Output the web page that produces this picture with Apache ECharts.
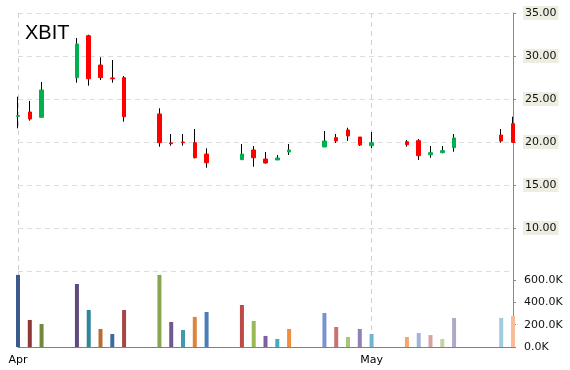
<!DOCTYPE html>
<html>
<head>
<meta charset="utf-8">
<script src="https://cdn.jsdelivr.net/npm/echarts@6/dist/echarts.min.js"></script>
<style>html,body{margin:0;padding:0;background:#fff}#c{width:570px;height:370px}</style>
</head>
<body>
<div id="c"></div>
<script>
// Calendar days on the x axis (Apr 1 .. May 13)
const categories = ['Apr 1','Apr 2','Apr 3','Apr 4','Apr 5','Apr 6','Apr 7','Apr 8','Apr 9','Apr 10',
  'Apr 11','Apr 12','Apr 13','Apr 14','Apr 15','Apr 16','Apr 17','Apr 18','Apr 19','Apr 20',
  'Apr 21','Apr 22','Apr 23','Apr 24','Apr 25','Apr 26','Apr 27','Apr 28','Apr 29','Apr 30',
  'May 1','May 2','May 3','May 4','May 5','May 6','May 7','May 8','May 9','May 10',
  'May 11','May 12','May 13'];
const monthTickDays = ['Apr 1','May 1'];
const monthTickLabels = ['Apr','May'];

// Trading days and values
const dates = ['Apr 1','Apr 2','Apr 3','Apr 6','Apr 7','Apr 8','Apr 9','Apr 10','Apr 13','Apr 14',
  'Apr 15','Apr 16','Apr 17','Apr 20','Apr 21','Apr 22','Apr 23','Apr 24','Apr 27','Apr 28',
  'Apr 29','Apr 30','May 1','May 4','May 5','May 6','May 7','May 8','May 12','May 13'];
const openVals  = [22.98,23.49,22.87,27.48,32.36,28.95,27.45,27.48,23.26,19.90,20.00,19.92,18.60,17.94,19.07,18.02,17.91,18.84,19.42,20.50,21.40,20.58,19.57,20.03,20.15,18.52,18.76,19.34,20.81,22.13];
const closeVals = [23.06,22.67,26.05,31.40,27.36,27.48,27.35,22.94,19.92,19.80,19.92,18.17,17.59,18.60,18.17,17.56,18.14,19.07,20.12,20.12,20.70,19.65,19.92,19.69,18.41,18.76,18.99,20.47,20.12,19.96];
const lowVals   = [21.59,22.48,22.87,26.90,26.55,27.21,26.90,22.36,19.45,19.57,19.57,18.10,17.01,17.94,17.13,17.48,17.91,18.49,19.42,19.88,20.12,19.53,19.30,19.45,17.91,18.17,18.69,18.87,19.92,19.96];
const highVals  = [25.27,24.77,26.98,32.09,32.48,29.85,29.53,27.67,23.92,20.93,20.93,21.51,19.27,19.77,19.53,18.84,18.49,19.77,21.28,20.93,21.66,20.58,21.16,20.23,20.35,19.53,19.53,20.93,21.51,22.94];
const volumeVals = [645000,242000,206000,564000,331000,161000,116000,331000,645000,224000,152000,269000,313000,376000,233000,99000,72000,161000,304000,179000,90000,161000,116000,90000,125000,107000,72000,260000,260000,278000];

const volumeColors = ['#3a5a8c','#8c3836','#71893b','#5e4a7c','#31849b','#b66d31',
  '#4068a0','#a64744','#89a54e','#71588f','#4298af','#db843d',
  '#4a7ebb','#bb4c48','#98b954','#7d60a0','#46aac5','#ee8f40',
  '#7795cc','#c87372','#abc57b','#927fb3','#6fb6cc','#f8a46e',
  '#a0b4d8','#d9a2a2','#c2d4a0','#b0a8c8','#a0cade','#f8bc98'];

const idxOf = {};
dates.forEach((d, i) => { idxOf[d] = i; });
const EMPTY = ['-','-','-','-'];
const wickData = categories.map(c => {
  const i = idxOf[c];
  return i === undefined ? EMPTY : [lowVals[i], lowVals[i], lowVals[i], highVals[i]];
});
const bodyData = categories.map(c => {
  const i = idxOf[c];
  if (i === undefined) return EMPTY;
  const o = openVals[i], cl = closeVals[i];
  return [o, cl, Math.min(o, cl), Math.max(o, cl)];
});
const volData = categories.map(c => {
  const i = idxOf[c];
  return i === undefined ? '-' : { value: volumeVals[i], itemStyle: { color: volumeColors[i] } };
});
const tickIdx = monthTickDays.map(d => categories.indexOf(d));
const isTick = (i) => tickIdx.indexOf(i) >= 0;

const FONT = 'DejaVu Sans';
const chart = echarts.init(document.getElementById('c'), null, { renderer: 'canvas' });
chart.setOption({
  animation: false,
  backgroundColor: '#fff',
  title: {
    text: 'XBIT', left: 20, top: 18,
    textStyle: { fontFamily: 'Liberation Sans', fontSize: 20, fontWeight: 'normal', color: '#000' }
  },
  grid: [
    { left: 18, right: 57, top: 13, height: 258 },
    { left: 18, right: 57, top: 271, height: 76 }
  ],
  xAxis: [
    {
      type: 'category', gridIndex: 0, data: categories, boundaryGap: false,
      axisLine: { show: false }, axisTick: { show: false }, axisLabel: { show: false },
      splitLine: { show: true, interval: (i) => isTick(i), lineStyle: { color: '#d0d0d0', type: [5, 4] } }
    },
    {
      type: 'category', gridIndex: 1, data: categories, boundaryGap: false,
      axisLine: { show: true, lineStyle: { color: '#808080', width: 1 } },
      axisTick: { show: false },
      axisLabel: {
        show: true, interval: (i) => isTick(i), margin: 8,
        fontFamily: FONT, fontSize: 11, color: '#000',
        formatter: (v, i) => { const k = tickIdx.indexOf(i); return k >= 0 ? monthTickLabels[k] : ''; }
      },
      splitLine: { show: true, interval: (i) => isTick(i), lineStyle: { color: '#d0d0d0', type: [5, 4] } }
    }
  ],
  yAxis: [
    {
      type: 'value', gridIndex: 0, position: 'right', min: 5, max: 35, interval: 5,
      axisLine: { show: true, lineStyle: { color: '#888' } },
      axisTick: { show: true, length: 3, lineStyle: { color: '#888' } },
      axisLabel: {
        showMinLabel: false, margin: 10, fontFamily: FONT, fontSize: 11, color: '#111',
        backgroundColor: '#eeede1', padding: [2, 2, 1, 2],
        formatter: (v) => v.toFixed(2)
      },
      splitLine: { show: true, lineStyle: { color: '#dcdcdc', type: [5, 4] } }
    },
    {
      type: 'value', gridIndex: 1, position: 'right', min: 0, max: 680000, interval: 200000,
      axisLine: { show: true, lineStyle: { color: '#888' } },
      axisTick: { show: true, length: 3, lineStyle: { color: '#888' } },
      axisLabel: {
        showMaxLabel: false, margin: 11, fontFamily: FONT, fontSize: 11, color: '#111',
        formatter: (v) => (v / 1000).toFixed(1) + 'K'
      },
      splitLine: { show: false }
    }
  ],
  series: [
    {
      name: 'wick', type: 'candlestick', xAxisIndex: 0, yAxisIndex: 0, data: wickData,
      barWidth: 0.01, barMinWidth: 0, clip: true,
      itemStyle: { color: '#000', color0: '#000', borderColor: '#000', borderColor0: '#000', borderColorDoji: '#000', borderWidth: 1 }
    },
    {
      name: 'body', type: 'candlestick', xAxisIndex: 0, yAxisIndex: 0, data: bodyData,
      barWidth: 4, clip: true, z: 3,
      itemStyle: { color: '#00b050', color0: '#ff0000', borderColor: '#00b050', borderColor0: '#ff0000', borderWidth: 1 }
    },
    {
      name: 'volume', type: 'bar', xAxisIndex: 1, yAxisIndex: 1, data: volData,
      barWidth: 4, clip: true
    }
  ]
});
</script>
</body>
</html>
